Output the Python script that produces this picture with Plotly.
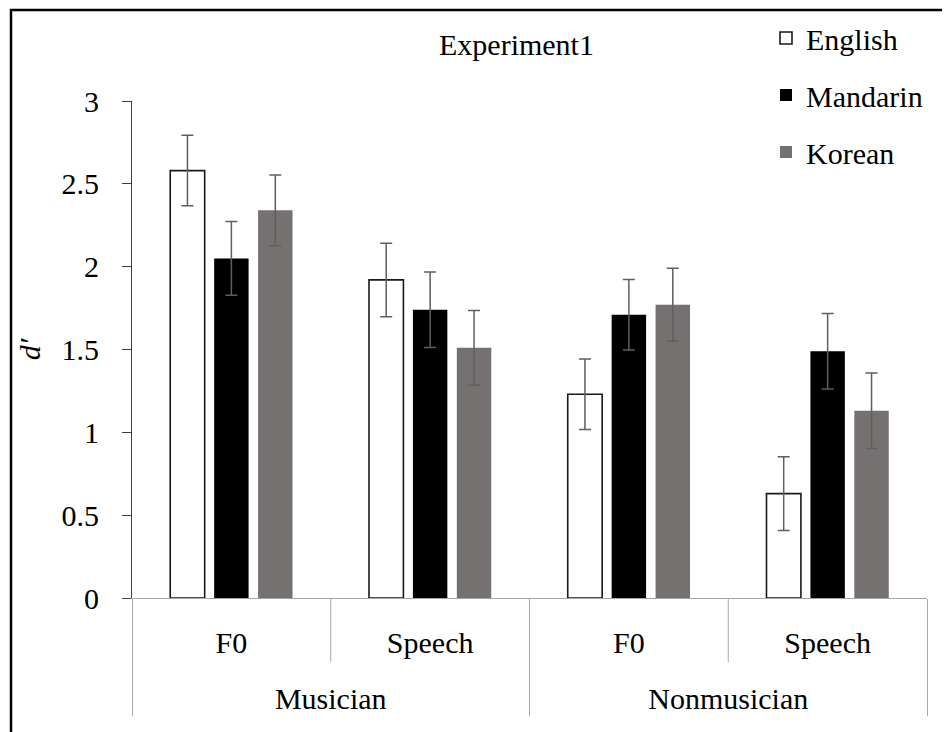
import plotly.graph_objects as go

groups = ["Musician", "Musician", "Nonmusician", "Nonmusician"]
conditions = ["F0", "Speech", "F0", "Speech"]

english = [2.58, 1.92, 1.23, 0.63]
mandarin = [2.05, 1.74, 1.71, 1.49]
korean = [2.34, 1.51, 1.77, 1.13]

english_err = [0.213, 0.222, 0.213, 0.222]
mandarin_err = [0.222, 0.228, 0.213, 0.228]
korean_err = [0.214, 0.226, 0.22, 0.228]

yticks = [0, 0.5, 1, 1.5, 2, 2.5, 3]
ytick_text = ["0", "0.5", "1", "1.5", "2", "2.5", "3"]

FONT = "Liberation Serif, Times New Roman, serif"
FS = 30
ERR_COLOR = "#5f5f5f"

# outer labels get an empty first line so they sit lower, as in the original
x = [["\u00a0<br>" + g for g in groups], conditions]

series = [
    ("English", english, english_err, "#ffffff", dict(color="#1a1a1a", width=1.6)),
    ("Mandarin", mandarin, mandarin_err, "#000000", dict(color="#000000", width=0)),
    ("Korean", korean, korean_err, "#767171", dict(color="#767171", width=0)),
]

fig = go.Figure()
for name, vals, errs, color, line in series:
    fig.add_trace(go.Bar(
        name=name, x=x, y=vals, legendgroup=name,
        marker=dict(color=color, line=line),
        error_y=dict(type="data", array=errs, visible=True,
                     color=ERR_COLOR, thickness=1.5, width=6),
    ))

# page body has an 8px offset; work in screen coordinates
OFF = 8
W, H = 950 - OFF, 732 - OFF
PL, PR, PT, PB = 132, 927, 101, 598  # plot area in screen px
L, R, T, B = PL - OFF, W - (PR - OFF), PT - OFF, H - (PB - OFF)
pw, ph = W - L - R, H - T - B

def px(xs):
    return (xs - PL) / pw

def py(ys):
    return (PB - ys) / ph

shapes = []
for xp in (0.25, 0.75):
    shapes.append(dict(type="line", xref="paper", yref="paper",
                       x0=xp, x1=xp, y0=0, y1=py(662),
                       line=dict(color="#a6a6a6", width=1)))
shapes.append(dict(type="rect", xref="paper", yref="paper",
                   x0=px(11), x1=px(1100), y0=py(900), y1=py(10),
                   line=dict(color="#000000", width=2.5)))

fig.update_layout(
    width=W, height=H,
    margin=dict(l=L, r=R, t=T, b=B, pad=0, autoexpand=False),
    paper_bgcolor="white", plot_bgcolor="white",
    font=dict(family=FONT, size=FS, color="#000000"),
    barmode="group", bargap=0.337, bargroupgap=0.216,
    showlegend=True,
    legend=dict(x=px(766), y=py(12), xanchor="left", yanchor="top",
                font=dict(family=FONT, size=FS, color="#000000"),
                traceorder="grouped", tracegroupgap=15,
                bgcolor="rgba(0,0,0,0)", borderwidth=0),
    xaxis=dict(type="multicategory", showline=True, linecolor="#a6a6a6", linewidth=1,
               showgrid=False, ticks="", ticklabelstandoff=18,
               showdividers=True, dividercolor="#a6a6a6", dividerwidth=1,
               tickfont=dict(family=FONT, size=FS, color="#000000")),
    yaxis=dict(range=[0, 3], tickvals=yticks, ticktext=ytick_text,
               showline=True, linecolor="#404040", linewidth=1,
               ticks="outside", ticklen=9, tickcolor="#404040",
               showgrid=False, zeroline=False, ticklabelstandoff=17,
               tickfont=dict(family=FONT, size=FS, color="#000000"),
               title=dict(text="<i>d′</i>", font=dict(family=FONT, size=FS),
                          standoff=12)),
    shapes=shapes,
    annotations=[dict(text="Experiment1", xref="paper", yref="paper",
                      x=px(516), y=py(45), xanchor="center", yanchor="middle",
                      showarrow=False,
                      font=dict(family=FONT, size=FS, color="#000000"))],
)

fig.write_html("out.html")
